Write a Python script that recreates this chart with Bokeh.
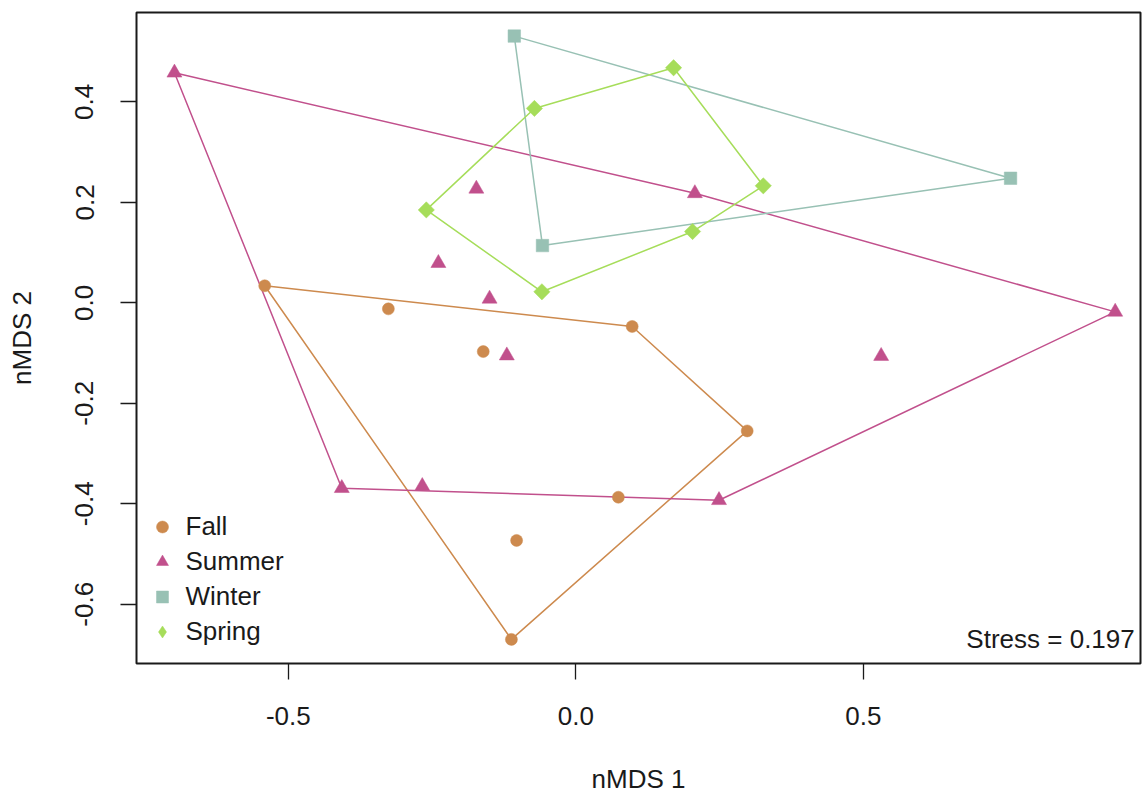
import numpy as np
from bokeh.plotting import figure
from bokeh.models import Legend, LegendItem, Label, FixedTicker, Range1d, PrintfTickFormatter
from bokeh.embed import file_html
from bokeh.resources import INLINE

# ---------------- data ----------------
seasons = ["Fall", "Summer", "Winter", "Spring"]
fall_x = [-0.541, -0.326, -0.161, 0.098, 0.298, 0.074, -0.103, -0.112]
fall_y = [0.034, -0.012, -0.097, -0.047, -0.255, -0.387, -0.473, -0.670]
summer_x = [-0.698, -0.173, -0.239, -0.150, -0.120, 0.207, 0.531, 0.938, -0.407, -0.267, 0.249]
summer_y = [0.458, 0.227, 0.079, 0.008, -0.105, 0.218, -0.106, -0.018, -0.369, -0.365, -0.393]
winter_x = [-0.107, 0.756, -0.058]
winter_y = [0.531, 0.248, 0.114]
spring_x = [0.170, -0.072, 0.326, -0.260, 0.203, -0.059]
spring_y = [0.468, 0.387, 0.233, 0.185, 0.142, 0.022]
stress = 0.197
x_ticks = [-0.5, 0.0, 0.5]
y_ticks = [-0.6, -0.4, -0.2, 0.0, 0.2, 0.4]

# ---------------- style ----------------
FONT = "Liberation Sans"
colors = {"Fall": "#CD8A4E", "Summer": "#C1508C", "Winter": "#98C1B4", "Spring": "#A6DD5A"}
series = {"Fall": (fall_x, fall_y), "Summer": (summer_x, summer_y),
          "Winter": (winter_x, winter_y), "Spring": (spring_x, spring_y)}
markers = {"Fall": dict(marker="circle", size=12),
           "Summer": dict(marker="triangle", size=15),
           "Winter": dict(marker="square", size=12.5),
           "Spring": dict(marker="square", size=11.5, angle=np.pi / 4)}


def convex_hull(xs, ys):
    pts = sorted(set(zip(xs, ys)))

    def cross(o, a, b):
        return (a[0] - o[0]) * (b[1] - o[1]) - (a[1] - o[1]) * (b[0] - o[0])

    lower = []
    for pt in pts:
        while len(lower) >= 2 and cross(lower[-2], lower[-1], pt) <= 0:
            lower.pop()
        lower.append(pt)
    upper = []
    for pt in reversed(pts):
        while len(upper) >= 2 and cross(upper[-2], upper[-1], pt) <= 0:
            upper.pop()
        upper.append(pt)
    h = lower[:-1] + upper[:-1]
    h.append(h[0])
    return [q[0] for q in h], [q[1] for q in h]


p = figure(width=1142, height=801, output_backend="svg", toolbar_location=None,
           x_range=Range1d(-0.764, 0.982), y_range=Range1d(-0.718, 0.578),
           min_border_left=136, min_border_right=2, min_border_top=12, min_border_bottom=138)
p.xgrid.visible = False
p.ygrid.visible = False
p.outline_line_color = "#1a1a1a"
p.outline_line_width = 2
p.background_fill_color = "white"
p.border_fill_color = "white"

for ax, ticks in ((p.xaxis[0], x_ticks), (p.yaxis[0], y_ticks)):
    ax.ticker = FixedTicker(ticks=ticks)
    ax.formatter = PrintfTickFormatter(format="%.1f")
    ax.axis_line_color = None
    ax.major_tick_in = 0
    ax.major_tick_out = 16
    ax.major_tick_line_color = "#1a1a1a"
    ax.major_tick_line_width = 1.3
    ax.minor_tick_line_color = None
    ax.major_label_text_font = FONT
    ax.major_label_text_font_size = "26px"
    ax.major_label_text_color = "#1a1a1a"
    ax.axis_label_text_font = FONT
    ax.axis_label_text_font_size = "26px"
    ax.axis_label_text_font_style = "normal"
    ax.axis_label_text_color = "#1a1a1a"

p.xaxis.axis_label = "nMDS 1"
p.yaxis.axis_label = "nMDS 2"
p.yaxis.major_label_orientation = "vertical"
p.xaxis.major_label_standoff = 27
p.xaxis.axis_label_standoff = 36
p.yaxis.major_label_standoff = 27
p.yaxis.axis_label_standoff = 36

# hulls
for s in seasons:
    hx, hy = convex_hull(*series[s])
    p.line(hx, hy, line_color=colors[s], line_width=1.5)

# points
renderers = {}
for s in seasons:
    xs, ys = series[s]
    renderers[s] = p.scatter(xs, ys, fill_color=colors[s], line_color=colors[s],
                             line_width=0.5, **markers[s])

# legend glyph for Spring: an unrotated diamond (legends ignore marker angle);
# zero-size so it draws nothing in the plot area itself
spring_key = p.scatter(spring_x, spring_y, marker="diamond", size=0,
                       fill_color=colors["Spring"], line_color=colors["Spring"],
                       line_width=0.5)
legend_renderers = dict(renderers)
legend_renderers["Spring"] = spring_key

legend = Legend(items=[LegendItem(label=s, renderers=[legend_renderers[s]]) for s in seasons],
                location=(10.5, 14.5), border_line_color=None, background_fill_alpha=0,
                padding=0, margin=0, spacing=0, glyph_width=30, glyph_height=35,
                label_height=35, label_standoff=9, label_text_font=FONT,
                label_text_font_size="26px", label_text_color="#1a1a1a")
p.add_layout(legend)

stress_x, stress_y = 0.972, -0.670
p.add_layout(Label(x=stress_x, y=stress_y, text=f"Stress = {stress}", text_align="right",
                   text_baseline="alphabetic", text_font=FONT, text_font_size="26px",
                   text_color="#1a1a1a"))

open("out.html", "w").write(file_html(p, INLINE))
